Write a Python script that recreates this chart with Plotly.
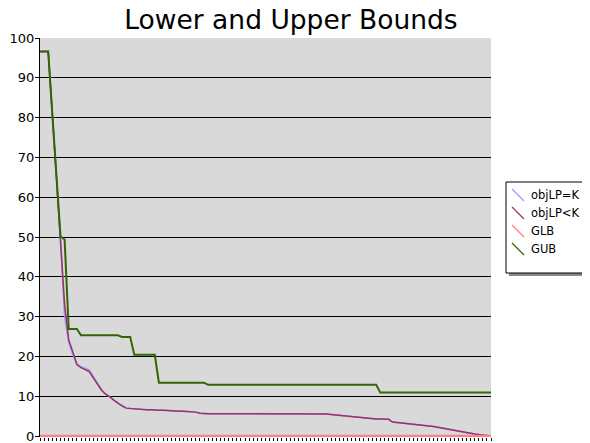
import plotly.graph_objects as go

idx = list(range(111))

obj_lp_eq_k = [
    96.6, 96.6, 96.6, 81.0, 65.0, 49.5, 30.0, 23.5, 20.5, 17.8,
    17.4, 17.0, 16.6, 15.0, 13.2, 11.7, 10.6, 9.9, 9.0, 8.2,
    7.6, 7.0, 6.9, 6.8, 6.7, 6.7, 6.6, 6.6, 6.5, 6.5,
    6.5, 6.4, 6.3, 6.3, 6.2, 6.2, 6.1, 6.1, 6.0, 5.7,
    5.6, 5.6, 5.6, 5.6, 5.6, 5.6, 5.6, 5.6, 5.6, 5.6,
    5.6, 5.6, 5.6, 5.6, 5.6, 5.6, 5.6, 5.6, 5.6, 5.6,
    5.6, 5.6, 5.6, 5.6, 5.6, 5.6, 5.6, 5.6, 5.6, 5.6,
    5.5, 5.4, 5.3, 5.1, 5.0, 4.9, 4.8, 4.7, 4.6, 4.5,
    4.5, 4.4, 4.3, 4.3, 4.2, 4.2, 3.5, 3.4, 3.3, 3.2,
    3.1, 3.0, 2.9, 2.8, 2.7, 2.5, 2.4, 2.2, 2.0, 1.9,
    1.7, 1.5, 1.2, 1.0, 0.8, 0.6, 0.5, 0.4, 0.3, 0.2,
    0.0,
]

obj_lp_lt_k = [
    96.6, 96.6, 96.6, 81.0, 65.0, 50.0, 33.0, 24.2, 20.8, 18.0,
    17.2, 16.8, 16.2, 14.6, 12.9, 11.5, 10.5, 9.9, 9.0, 8.2,
    7.6, 7.0, 6.9, 6.8, 6.7, 6.7, 6.6, 6.6, 6.5, 6.5,
    6.5, 6.4, 6.3, 6.3, 6.2, 6.2, 6.1, 6.1, 6.0, 5.7,
    5.6, 5.6, 5.6, 5.6, 5.6, 5.6, 5.6, 5.6, 5.6, 5.6,
    5.6, 5.6, 5.6, 5.6, 5.6, 5.6, 5.6, 5.6, 5.6, 5.6,
    5.6, 5.6, 5.6, 5.6, 5.6, 5.6, 5.6, 5.6, 5.6, 5.6,
    5.5, 5.4, 5.3, 5.1, 5.0, 4.9, 4.8, 4.7, 4.6, 4.5,
    4.5, 4.4, 4.3, 4.3, 4.2, 4.2, 3.5, 3.4, 3.3, 3.2,
    3.1, 3.0, 2.9, 2.8, 2.7, 2.5, 2.4, 2.2, 2.0, 1.9,
    1.7, 1.5, 1.2, 1.0, 0.8, 0.6, 0.5, 0.4, 0.3, 0.2,
    0.0,
]

glb = [
    0, 0, 0, 0, 0, 0, 0, 0, 0, 0, 0, 0, 0, 0, 0, 0, 0, 0, 0, 0,
    0, 0, 0, 0, 0, 0, 0, 0, 0, 0, 0, 0, 0, 0, 0, 0, 0, 0, 0, 0,
    0, 0, 0, 0, 0, 0, 0, 0, 0, 0, 0, 0, 0, 0, 0, 0, 0, 0, 0, 0,
    0, 0, 0, 0, 0, 0, 0, 0, 0, 0, 0, 0, 0, 0, 0, 0, 0, 0, 0, 0,
    0, 0, 0, 0, 0, 0, 0, 0, 0, 0, 0, 0, 0, 0, 0, 0, 0, 0, 0, 0,
    0, 0, 0, 0, 0, 0, 0, 0, 0, 0, 0,
]

gub = [
    96.6, 96.6, 96.6, 81.0, 65.5, 50.2, 49.4, 26.9, 26.9, 26.9,
    25.3, 25.3, 25.3, 25.3, 25.3, 25.3, 25.3, 25.3, 25.3, 25.3,
    24.9, 24.9, 24.9, 20.4, 20.4, 20.4, 20.4, 20.4, 20.4, 13.4,
    13.4, 13.4, 13.4, 13.4, 13.4, 13.4, 13.4, 13.4, 13.4, 13.4,
    13.4, 12.85, 12.85, 12.85, 12.85, 12.85, 12.85, 12.85, 12.85, 12.85,
    12.85, 12.85, 12.85, 12.85, 12.85, 12.85, 12.85, 12.85, 12.85, 12.85,
    12.85, 12.85, 12.85, 12.85, 12.85, 12.85, 12.85, 12.85, 12.85, 12.85,
    12.85, 12.85, 12.85, 12.85, 12.85, 12.85, 12.85, 12.85, 12.85, 12.85,
    12.85, 12.85, 12.85, 10.9, 10.9, 10.9, 10.9, 10.9, 10.9, 10.9,
    10.9, 10.9, 10.9, 10.9, 10.9, 10.9, 10.9, 10.9, 10.9, 10.9,
    10.9, 10.9, 10.9, 10.9, 10.9, 10.9, 10.9, 10.9, 10.9, 10.9,
    10.9,
]

series_names = ["objLP=K", "objLP<K", "GLB", "GUB"]
series_colors = ["#9999ff", "#993366", "#ff8080", "#336600"]
series_widths = [1.5, 1.5, 2.5, 2]

# page offset (browser body margin)
OFF = 8
W, H = 590 - OFF, 443 - OFF
ML, MR, MT, MB = 32, 99, 30, 6
PW, PH = W - ML - MR, H - MT - MB


def px2paper(px, py):
    """page pixel coordinates -> paper coordinates of the plot area"""
    fx, fy = px - OFF, py - OFF
    return (fx - ML) / PW, (H - MB - fy) / PH


fig = go.Figure()
for name, ys, color, w in zip(series_names, [obj_lp_eq_k, obj_lp_lt_k, glb, gub],
                              series_colors, series_widths):
    fig.add_trace(go.Scatter(x=idx, y=ys, mode="lines", name=name,
                             line=dict(color=color, width=w), showlegend=False))

# custom legend (box, shadow, diagonal symbols, labels)
shapes = []
annotations = []
bx0, by0 = px2paper(506, 182)
bx1, by1 = px2paper(586, 273)
sx0, sy0 = px2paper(509, 185)
sx1, sy1 = px2paper(589, 276)
shapes.append(dict(type="rect", xref="paper", yref="paper", x0=sx0, x1=sx1,
                   y0=sy1, y1=sy0, fillcolor="#888888", line=dict(width=0)))
shapes.append(dict(type="rect", xref="paper", yref="paper", x0=bx0, x1=bx1,
                   y0=by1, y1=by0, fillcolor="white",
                   line=dict(color="black", width=1)))
item_y = [195, 213, 231, 249]
for name, color, yc in zip(series_names, series_colors, item_y):
    a0 = px2paper(512, yc - 6)
    a1 = px2paper(524, yc + 6)
    shapes.append(dict(type="line", xref="paper", yref="paper",
                       x0=a0[0], y0=a0[1], x1=a1[0], y1=a1[1],
                       line=dict(color=color, width=1.2)))
    tx, ty = px2paper(529, yc)
    annotations.append(dict(x=tx, y=ty, xref="paper", yref="paper",
                            text=name, showarrow=False, xanchor="left",
                            yanchor="middle",
                            font=dict(family="DejaVu Sans", size=11.5,
                                      color="black")))

fig.update_layout(
    width=W, height=H,
    margin=dict(l=ML, r=MR, t=MT, b=MB, autoexpand=False),
    paper_bgcolor="white",
    plot_bgcolor="#d9d9d9",
    font=dict(family="DejaVu Sans", color="black", size=13),
    title=dict(text="Lower and Upper Bounds", x=(291 - OFF) / W, xanchor="center",
               xref="container", yref="container",
               y=1 - (20 - OFF) / H, yanchor="middle",
               font=dict(family="DejaVu Sans", size=26.5, color="black")),
    showlegend=False,
    shapes=shapes,
    annotations=annotations,
)

fig.update_xaxes(range=[0, 110], showgrid=False, zeroline=False,
                 showline=False, showticklabels=False, automargin=False,
                 ticks="outside", ticklen=3, tickcolor="black", tickwidth=1,
                 tickmode="linear", tick0=0, dtick=1)
fig.update_yaxes(range=[-0.25, 100], tickmode="linear", tick0=0, dtick=10,
                 showgrid=True, gridcolor="black", gridwidth=1, automargin=False,
                 zeroline=False, showline=True, linecolor="black", linewidth=1,
                 mirror=False, ticks="outside", ticklen=4, tickcolor="black",
                 ticklabeloverflow="allow", ticklabelstandoff=-2,
                 tickfont=dict(size=13, family="DejaVu Sans"))

fig.write_html("out.html")
